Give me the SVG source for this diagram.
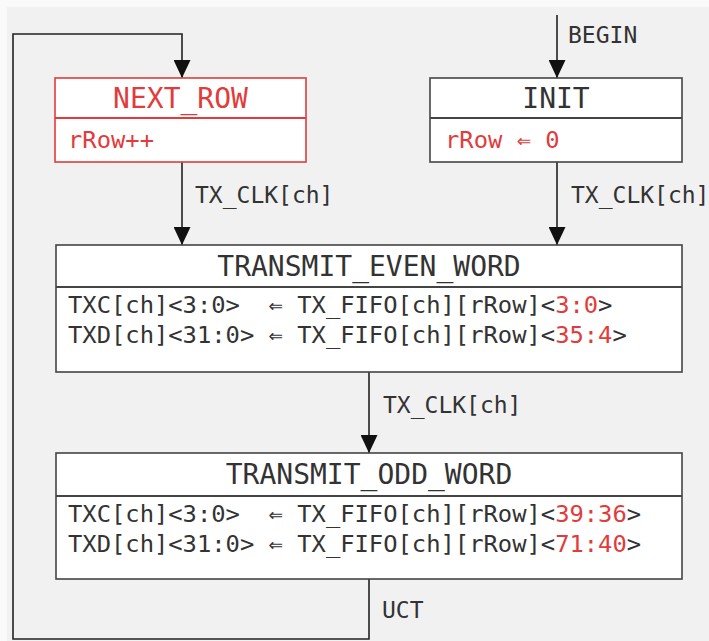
<svg xmlns="http://www.w3.org/2000/svg" width="709" height="641" viewBox="0 0 709 641">
<style>
text{font-family:"DejaVu Sans Mono","Liberation Mono",monospace;fill:#333;white-space:pre}
.title{font-size:28px;text-anchor:middle}
.body{font-size:23.8px}
.lbl{font-size:23px}
.red{fill:#e23b3b}
.box{fill:#fff;stroke:#444;stroke-width:1.6}
.div{stroke:#444;stroke-width:2.2}
.rbox{fill:#fff;stroke:#e23b3b;stroke-width:1.6}
.rdiv{stroke:#e23b3b;stroke-width:2}
.conn{fill:none;stroke:#222;stroke-width:1.6}
</style>
<defs>
<marker id="arr" markerUnits="userSpaceOnUse" markerWidth="18" markerHeight="17" refX="18" refY="8.5" orient="auto">
<path d="M0,0 L18,8.5 L0,17 z" fill="#111"/>
</marker>
</defs>
<rect x="0" y="0" width="709" height="641" fill="#fafafa"/>
<rect x="7" y="7" width="702" height="634" fill="#f1f1f1"/>
<g id="connectors">
<path class="conn" d="M369,579 V639 H13 V34 H182 V78" marker-end="url(#arr)"/>
<path class="conn" d="M557,15 V78" marker-end="url(#arr)"/>
<path class="conn" d="M182,162 V245" marker-end="url(#arr)"/>
<path class="conn" d="M557,162 V245" marker-end="url(#arr)"/>
<path class="conn" d="M369,372 V453" marker-end="url(#arr)"/>
<text class="lbl" x="568" y="43">BEGIN</text>
<text class="lbl" x="195" y="203">TX_CLK[ch]</text>
<text class="lbl" x="571" y="203">TX_CLK[ch]</text>
<text class="lbl" x="383" y="413">TX_CLK[ch]</text>
<text class="lbl" x="382" y="618">UCT</text>
</g>
<g id="next_row">
<rect class="rbox" x="55" y="78" width="251" height="84"/>
<line class="rdiv" x1="55" y1="118" x2="306" y2="118"/>
<text class="title red" x="180.5" y="108">NEXT_ROW</text>
<text class="body red" x="68" y="148">rRow++</text>
</g>
<g id="init">
<rect class="box" x="430" y="78" width="252" height="84"/>
<line class="div" x1="430" y1="118" x2="682" y2="118"/>
<text class="title" x="556" y="108">INIT</text>
<text class="body red" x="445" y="148">rRow ⇐ 0</text>
</g>
<g id="transmit_even_word">
<rect class="box" x="56" y="245" width="626" height="127"/>
<line class="div" x1="56" y1="287" x2="682" y2="287"/>
<text class="title" x="369" y="276">TRANSMIT_EVEN_WORD</text>
<text class="body" x="68" y="313">TXC[ch]&lt;3:0&gt;  ⇐ TX_FIFO[ch][rRow]&lt;<tspan class="red">3:0</tspan>&gt;</text>
<text class="body" x="68" y="343">TXD[ch]&lt;31:0&gt; ⇐ TX_FIFO[ch][rRow]&lt;<tspan class="red">35:4</tspan>&gt;</text>
</g>
<g id="transmit_odd_word">
<rect class="box" x="56" y="453" width="626" height="126"/>
<line class="div" x1="56" y1="496" x2="682" y2="496"/>
<text class="title" x="369" y="484">TRANSMIT_ODD_WORD</text>
<text class="body" x="68" y="522">TXC[ch]&lt;3:0&gt;  ⇐ TX_FIFO[ch][rRow]&lt;<tspan class="red">39:36</tspan>&gt;</text>
<text class="body" x="68" y="552">TXD[ch]&lt;31:0&gt; ⇐ TX_FIFO[ch][rRow]&lt;<tspan class="red">71:40</tspan>&gt;</text>
</g>
</svg>
